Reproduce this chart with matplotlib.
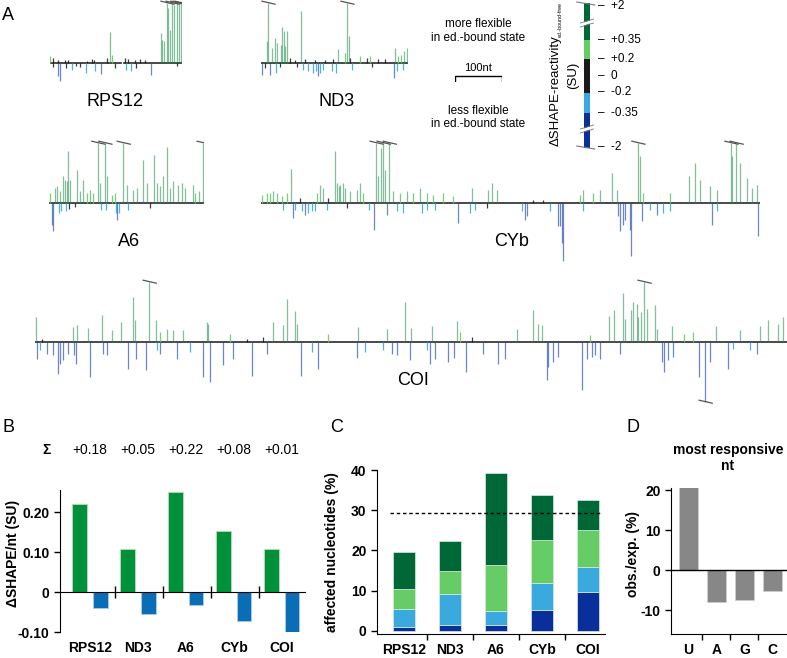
import matplotlib
matplotlib.use("Agg")
import matplotlib.pyplot as plt
import matplotlib.transforms as mtransforms
import numpy as np

plt.rcParams['font.family'] = ['Liberation Sans', 'DejaVu Sans']

# ---------------- data: panel A traces (nt position, delta SHAPE in SU) ----------------
rps12_nt = [0, 6, 17, 32, 38, 79, 89, 94, 121, 128, 132, 160, 166, 181, 192, 202,
            236, 239, 243, 249, 251, 256, 260, 264, 270, 275, 279,
            7, 18, 21, 33, 47, 55, 64, 77, 95, 109, 138, 162, 173, 182, 215, 271]
rps12_su = [0.23, 0.17, 0.1, 0.1, 0.1, 0.07, 0.13, 0.1, 0.17, 1.05, 0.27, 0.17, 0.13, 0.1, 0.13, 0.1,
            1.0, 0.77, 0.73, 2.4, 1.83, 1.1, 2.4, 1.95, 2.4, 2.4, 2.4,
            -0.13, -0.43, -0.6, -0.17, -0.23, -0.1, -0.13, -0.33, -0.27, -0.37, -0.17, -0.23, -0.27, -0.17, -0.4, -0.1]

nd3_nt = [13, 15, 23, 30, 34, 43, 45, 49, 51, 55, 62, 72, 85, 94, 115, 136, 153, 164, 179, 183,
          187, 190, 211, 226, 232, 249, 264, 285, 292, 298, 305, 311,
          2, 9, 19, 32, 40, 77, 89, 100, 111, 117, 121, 126, 132, 151, 160, 194, 236, 283, 290, 302]
nd3_su = [0.73, 2.4, 0.5, 0.83, 0.67, 0.6, 1.2, 1.07, 0.57, 1.07, 0.17, 0.1, 1.73, 0.13, 0.1, 0.1, 0.13, 0.47, 0.33, 2.4,
          0.9, 0.17, 0.23, 0.17, 0.23, 0.13, 0.13, 0.5, 0.23, 0.27, 0.4, 0.5,
          -0.4, -0.17, -0.4, -0.33, -0.13, -0.13, -0.23, -0.27, -0.33, -0.27, -0.43, -0.33, -0.23, -0.27, -0.33,
          -0.23, -0.13, -0.5, -0.27, -0.23]

a6_nt = [2, 13, 17, 23, 30, 34, 38, 40, 45, 60, 66, 72, 81, 87, 94, 104, 109, 119, 124, 134,
         141, 158, 166, 179, 187, 200, 209, 224, 230, 236, 243, 251, 258, 264, 275, 283, 290, 307, 311, 319, 328,
         6, 9, 21, 25, 36, 42, 55, 111, 121, 143, 145, 149, 168, 215]
a6_su = [0.33, 0.5, 0.57, 0.4, 0.9, 0.77, 0.73, 1.73, 0.77, 1.1, 0.4, 0.77, 0.33, 0.43, 0.33, 2.4, 0.67, 2.4, 0.9, 0.27,
         0.33, 2.4, 0.6, 0.43, 0.5, 1.43, 0.67, 1.6, 0.67, 0.57, 0.9, 1.87, 0.5, 0.73, 0.6, 0.67, 0.5, 0.6, 0.33, 0.4, 2.4,
         -0.73, -0.93, -0.33, -0.27, -0.27, -0.2, -0.13, -0.23, -0.23, -0.33, -0.57, -0.33, -0.23, -0.17]

cyb_nt = [2, 13, 19, 26, 34, 45, 55, 64, 83, 119, 126, 132, 143, 158, 162, 166, 168, 175, 179, 190,
          204, 211, 217, 245, 249, 255, 260, 264, 273, 281, 296, 311, 324, 338, 353, 366, 388, 409, 449, 483,
          492, 502, 579, 600, 679, 685, 707, 721, 747, 758, 802, 806, 813, 870, 911, 924, 934, 956, 970, 1000,
          1002, 1011, 1019, 1034, 1045, 1055,
          46, 68, 72, 87, 94, 100, 109, 115, 140, 183, 230, 241, 268, 290, 302, 343, 354, 370, 419, 445,
          456, 481, 555, 562, 566, 615, 632, 636, 641, 643, 686, 760, 764, 770, 775, 785, 787, 811, 828, 843,
          855, 871, 960, 971, 1058]
cyb_su = [0.27, 0.33, 0.33, 0.4, 0.33, 0.23, 0.33, 1.13, 0.17, 0.33, 0.6, 0.5, 0.17, 1.73, 0.67, 0.57, 0.6, 0.67, 0.5, 0.4,
          0.43, 0.67, 0.33, 2.4, 0.9, 1.83, 2.4, 1.1, 2.4, 0.4, 0.33, 0.4, 0.33, 0.5, 0.33, 0.27, 0.33, 0.23, 0.5, 0.43,
          0.67, 0.43, 0.1, 0.1, 0.27, 0.43, 0.33, 0.43, 1.0, 0.43, 2.4, 1.57, 0.33, 0.33, 0.9, 1.33, 0.77, 0.57, 0.43, 2.4,
          1.57, 2.4, 1.33, 0.83, 0.5, 0.6,
          -0.23, -0.5, -0.23, -0.27, -0.4, -0.33, -0.27, -0.27, -0.23, -0.17, -0.23, -0.9, -0.4, -0.27, -0.33, -0.33,
          -0.23, -0.23, -0.67, -0.33, -0.23, -0.17, -0.27, -0.57, -0.43, -0.27, -0.77, -0.77, -1.33, -1.93,
          -0.27, -0.43, -0.93, -0.73, -0.57, -0.9, -1.77, -0.6, -0.23, -0.4, -0.33, -0.27, -0.73, -0.27, -1.1]

coi_nt = [2, 15, 81, 89, 113, 143, 164, 183, 209, 213, 243, 258, 266, 281, 294, 315, 366, 368, 415, 451,
          485, 507, 528, 536, 553, 558, 624, 688, 749, 788, 801, 845, 898, 904, 930, 1026, 1060, 1071, 1079, 1181,
          1222, 1231, 1252, 1256, 1269, 1273, 1280, 1284, 1290, 1296, 1303, 1320, 1324, 1356, 1380, 1399, 1448,
          1501, 1543, 1560, 1581, 1592,
          4, 11, 26, 38, 49, 53, 60, 70, 82, 87, 117, 145, 153, 198, 214, 236, 260, 267, 302, 330,
          357, 372, 400, 422, 462, 494, 566, 589, 602, 685, 702, 741, 760, 770, 798, 834, 841, 851, 879, 892,
          917, 954, 986, 1000, 1090, 1092, 1103, 1113, 1164, 1175, 1185, 1192, 1203, 1245, 1335, 1338, 1346,
          1357, 1413, 1426, 1437, 1475, 1486, 1522, 1537]
coi_su = [0.83, 0.1, 0.5, 0.57, 0.47, 0.9, 0.4, 0.67, 1.5, 0.73, 2.4, 0.73, 0.33, 0.43, 0.4, 0.4, 0.67, 0.6, 0.27, 0.1,
          0.17, 0.67, 0.57, 1.43, 1.03, 0.6, 0.27, 0.5, 0.43, 1.33, 0.47, 0.53, 0.7, 0.33, 0.17, 0.43, 1.07, 0.6, 0.57, 0.23,
          0.87, 1.07, 1.63, 0.77, 1.07, 1.33, 1.27, 0.83, 1.0, 2.4, 1.1, 1.23, 0.43, 0.53, 0.27, 0.33, 0.53,
          0.4, 0.53, 0.73, 0.6, 0.83,
          -0.57, -0.27, -0.4, -0.43, -1.07, -0.73, -0.6, -0.4, -0.43, -0.73, -1.17, -0.4, -0.43, -0.9, -0.57, -0.93,
          -0.27, -0.4, -0.57, -0.33, -1.17, -1.33, -0.77, -0.57, -1.13, -0.4, -1.13, -0.33, -0.9, -0.53,
          -0.33, -0.27, -0.4, -0.43, -0.6, -0.27, -0.73, -0.57, -0.67, -0.53, -1.0, -0.4, -0.73, -0.57, -1.27,
          -0.83, -0.67, -0.5, -1.6, -0.57, -0.5, -0.43, -0.57, -0.4, -0.67, -1.0, -0.6, -0.5, -1.17, -2.4,
          -0.67, -0.9, -0.23, -0.27, -0.4]

# ---------------- data: panels B-D ----------------
genes = ['RPS12', 'ND3', 'A6', 'CYb', 'COI']
sigma = ['+0.18', '+0.05', '+0.22', '+0.08', '+0.01']
b_more = [0.22, 0.107, 0.25, 0.152, 0.107]
b_less = [-0.040, -0.055, -0.033, -0.073, -0.100]

c_dark_blue = [1.1, 1.4, 1.6, 5.1, 9.7]
c_light_blue = [4.3, 7.8, 3.3, 6.7, 6.3]
c_light_green = [5.1, 5.6, 11.6, 10.8, 9.2]
c_dark_green = [9.1, 7.6, 22.7, 11.3, 7.3]
c_threshold = 29.4

nts = ['U', 'A', 'G', 'C']
d_vals = [20.8, -8.1, -7.5, -5.2]

DG, LG, BK, LB, DB = '#006837', '#66cc66', '#1a1a1a', '#3aaade', '#0a2f9a'

W, H = 787, 658
fig = plt.figure(figsize=(W / 100, H / 100), dpi=100)


def px_axes(x0, y0, w, h):
    return fig.add_axes([x0 / W, 1 - (y0 + h) / H, w / W, h / H])


def su_color(v):
    if v > 0.35:
        return '#1f8a4c', 0.55
    if v > 0.2:
        return LG, 0.9
    if v >= -0.2:
        return BK, 0.85
    if v >= -0.35:
        return LB, 0.9
    return '#1d46b0', 0.65


def trace(nt, su, x0, base, length, label, lx, gaps=()):
    ax = px_axes(x0, base - 63, length * 0.47, 126)
    ax.set_xlim(0, length)
    ax.set_ylim(-2.1, 2.1)
    ax.axis('off')
    edges = [0] + [g for pair in gaps for g in pair] + [length]
    for a, b in zip(edges[::2], edges[1::2]):
        ax.plot([a, b], [0, 0], color='#3a3a3a', lw=1.3)
    for p, v in zip(nt, su):
        c, al = su_color(v)
        vv = max(min(v, 2.0), -2.0)
        ax.vlines(p, 0, vv, color=c, alpha=al, lw=0.9)
        if abs(v) > 2:
            s = np.sign(v)
            ax.plot([p - 13, p + 15], [s * 2.0 + 0.06, s * 2.0 - 0.04], color='#555555', lw=0.9)
    fig.text(lx / W, 1 - (base + 39) / H, label, fontsize=13, ha='center', va='center')


trace(rps12_nt, rps12_su, 50, 63, 281, 'RPS12', 115, gaps=[(151, 158)])
trace(nd3_nt, nd3_su, 261, 63, 313, 'ND3', 337)
trace(a6_nt, a6_su, 49, 203, 330, 'A6', 129)
trace(cyb_nt, cyb_su, 261, 203, 1062, 'CYb', 512)
trace(coi_nt, coi_su, 35, 342, 1602, 'COI', 413)

# legend texts / scale bar
for txt, y in [('more flexible', 24), ('in ed.-bound state', 38), ('less flexible', 111), ('in ed.-bound state', 124)]:
    fig.text(478 / W, 1 - y / H, txt, fontsize=8.5, ha='center', va='center')
fig.text(478 / W, 1 - 68 / H, '100nt', fontsize=8, ha='center', va='center')
axs = px_axes(455, 74, 47, 8)
axs.set_xlim(0, 100)
axs.set_ylim(1, 0)
axs.axis('off')
axs.plot([0, 0, 100, 100], [0.9, 0.3, 0.3, 0.9], color='k', lw=1.0)

# colour key
axk = px_axes(584, 0, 6, 152)
axk.set_xlim(0, 1)
axk.set_ylim(152, 0)
axk.axis('off')
key = [(3, 40, DG), (40, 59, LG), (59, 93, BK), (93, 113, LB), (113, 148, DB)]
for top, bot, c in key:
    axk.bar(0.5, bot - top, bottom=top, width=1, color=c)
for yb in (23, 129):
    axk.plot([-0.6, 1.6], [yb + 2, yb - 2], color='white', lw=2.2, clip_on=False)
    axk.plot([-0.6, 1.6], [yb + 4, yb], color='#777777', lw=0.6, clip_on=False)
    axk.plot([-0.6, 1.6], [yb, yb - 4], color='#777777', lw=0.6, clip_on=False)
axk.plot([-1.2, 1.8], [2, 5], color='#777777', lw=0.8, clip_on=False)
axk.plot([-1.2, 1.8], [146, 149], color='#777777', lw=0.8, clip_on=False)
for lab, y in [('+2', 6), ('+0.35', 40), ('+0.2', 59), ('0', 76), ('-0.2', 92), ('-0.35', 113), ('-2', 147)]:
    fig.text(598 / W, 1 - y / H, '–  ' + lab, fontsize=8.5, ha='left', va='center')
fig.text(559 / W, 1 - 146 / H, 'ΔSHAPE-reactivity', fontsize=9.5, rotation=90,
         ha='left', va='baseline', rotation_mode='anchor')
fig.text(562 / W, 1 - 37 / H, 'ed.-bound-free', fontsize=3.8, rotation=90,
         ha='left', va='baseline', rotation_mode='anchor')
fig.text(573 / W, 1 - 75 / H, '(SU)', fontsize=9.5, rotation=90, ha='center', va='center')

# panel letters
for letter, x, y in [('A', 2, 15), ('B', 2, 428), ('C', 330, 428), ('D', 627, 428)]:
    fig.text(x / W, 1 - y / H, letter, fontsize=13, ha='left', va='center')

bold = dict(fontweight='bold', fontsize=10)

# ---------------- panel B ----------------
axB = px_axes(60, 490, 245, 142)
x = np.arange(len(genes))
axB.bar(x - 0.21, b_more, 0.31, color='#00913a', edgecolor='#b5dcbc', lw=0.6)
axB.bar(x + 0.21, b_less, 0.31, color='#0a6db5', edgecolor='#a9cde8', lw=0.6)
axB.set_xlim(-0.625, 4.48)
axB.set_ylim(-0.10, 0.255)
for s in ('top', 'right'):
    axB.spines[s].set_visible(False)
axB.spines['bottom'].set_position(('data', 0))
axB.set_xticks(x[:-1] + 0.52)
axB.set_xticklabels([])
axB.tick_params(axis='x', direction='inout', length=8, width=1)
axB.set_yticks([-0.1, 0, 0.1, 0.2])
axB.set_yticklabels(['-0.10', '0', '0.10', '0.20'], **bold)
axB.tick_params(axis='y', length=4, width=1)
axB.set_ylabel('ΔSHAPE/nt (SU)', **bold)
axB.yaxis.set_label_coords(-0.165, 0.55)
trB = mtransforms.blended_transform_factory(axB.transData, axB.transAxes)
for i, g in enumerate(genes):
    axB.text(i, -0.113, g, transform=trB, ha='center', va='center', **bold)
    axB.text(i, 1.282, sigma[i], transform=trB, ha='center', va='center', fontsize=10)
axB.text(-0.9, 1.282, 'Σ', transform=trB, ha='center', va='center', **bold)

# ---------------- panel C ----------------
axC = px_axes(377, 470, 228, 164)
bottom = np.zeros(len(genes))
for vals, c in [(c_dark_blue, DB), (c_light_blue, LB), (c_light_green, LG), (c_dark_green, DG)]:
    axC.bar(x, vals, 0.46, bottom=bottom, color=c, edgecolor='#d8ecdc', lw=0.5)
    bottom = bottom + np.array(vals)
axC.plot([-0.3, 4.3], [c_threshold, c_threshold], color='k', lw=1.0, ls=(0, (2.5, 2)))
axC.set_xlim(-0.587, 4.37)
axC.set_ylim(-0.75, 40)
for s in ('top', 'right'):
    axC.spines[s].set_visible(False)
axC.set_xticks(x[:-1] + 0.5)
axC.set_xticklabels([])
axC.tick_params(axis='x', length=4, width=1)
axC.set_yticks([0, 10, 20, 30, 40])
axC.set_yticklabels(['0', '10', '20', '30', '40'], **bold)
axC.tick_params(axis='y', length=4, width=1)
axC.set_ylabel('affected nucleotides (%)', **bold)
axC.yaxis.set_label_coords(-0.165, 0.5)
trC = mtransforms.blended_transform_factory(axC.transData, axC.transAxes)
for i, g in enumerate(genes):
    axC.text(i, -0.1, g, transform=trC, ha='center', va='center', **bold)

# ---------------- panel D ----------------
axD = px_axes(671, 488, 116, 146)
xd = np.arange(len(nts))
axD.bar(xd, d_vals, 0.68, color='#878787', edgecolor='#cccccc', lw=0.6)
axD.axhline(0, color='k', lw=1.0)
axD.set_xlim(-0.625, 3.52)
axD.set_ylim(-16, 20.5)
for s in ('top', 'right'):
    axD.spines[s].set_visible(False)
axD.set_xticks(xd[:-1] + 0.5)
axD.set_xticklabels([])
axD.tick_params(axis='x', length=4, width=1)
axD.set_yticks([-10, 0, 10, 20])
axD.set_yticklabels(['-10', '0', '10', '20'], **bold)
axD.tick_params(axis='y', length=4, width=1)
axD.set_ylabel('obs./exp. (%)', **bold)
axD.yaxis.set_label_coords(-0.27, 0.55)
trD = mtransforms.blended_transform_factory(axD.transData, axD.transAxes)
for i, n in enumerate(nts):
    axD.text(i, -0.11, n, transform=trD, ha='center', va='center', **bold)
fig.text(728 / W, 1 - 458 / H, 'most responsive\nnt', ha='center', va='center',
         linespacing=1.2, **bold)

fig.savefig('out.png', dpi=100)
